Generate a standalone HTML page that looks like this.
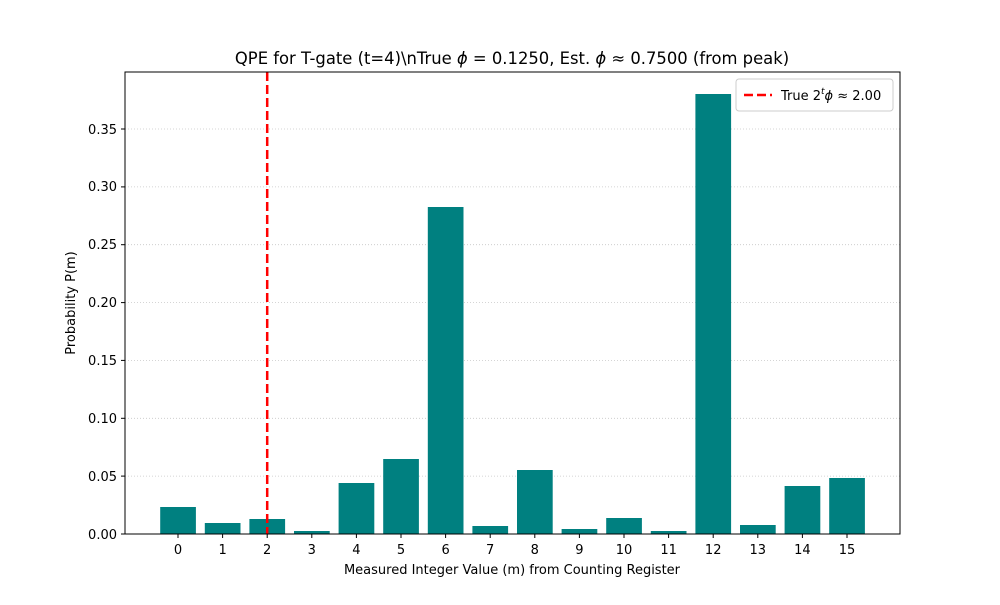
<!DOCTYPE html>
<html><head><meta charset="utf-8"><style>body{margin:0;background:#fff}</style></head><body>
<svg width="1000" height="600" xmlns="http://www.w3.org/2000/svg" font-family="'DejaVu Sans','Liberation Sans',sans-serif">
<rect width="1000" height="600" fill="#fff"/>
<g stroke="#b0b0b0" stroke-width="0.8" stroke-dasharray="1,2" opacity="0.7">
<line x1="125" x2="900" y1="476.1" y2="476.1"/><line x1="125" x2="900" y1="418.3" y2="418.3"/>
<line x1="125" x2="900" y1="360.4" y2="360.4"/><line x1="125" x2="900" y1="302.6" y2="302.6"/>
<line x1="125" x2="900" y1="244.7" y2="244.7"/><line x1="125" x2="900" y1="186.9" y2="186.9"/>
<line x1="125" x2="900" y1="129" y2="129"/>
</g>
<g fill="#008080">
<rect x="160.2" y="507" width="35.7" height="27"/>
<rect x="204.8" y="523" width="35.7" height="11"/>
<rect x="249.4" y="519" width="35.7" height="15"/>
<rect x="294" y="531" width="35.7" height="3"/>
<rect x="338.6" y="483" width="35.7" height="51"/>
<rect x="383.2" y="459" width="35.7" height="75"/>
<rect x="427.8" y="207" width="35.7" height="327"/>
<rect x="472.4" y="526" width="35.7" height="8"/>
<rect x="517" y="470" width="35.7" height="64"/>
<rect x="561.6" y="529" width="35.7" height="5"/>
<rect x="606.2" y="518" width="35.7" height="16"/>
<rect x="650.8" y="531" width="35.7" height="3"/>
<rect x="695.4" y="94" width="35.7" height="440"/>
<rect x="740" y="525" width="35.7" height="9"/>
<rect x="784.6" y="486" width="35.7" height="48"/>
<rect x="829.2" y="478" width="35.7" height="56"/>
</g>
<line x1="267.2" x2="267.2" y1="72" y2="534" stroke="#ff0000" stroke-width="2.5" stroke-dasharray="9,4"/>
<rect x="125" y="72" width="775" height="462" fill="none" stroke="#000" stroke-width="1"/>
<g font-size="13" fill="#000" text-anchor="middle">
<g stroke="#000"><line x1="178" x2="178" y1="534" y2="538"/><line x1="222.6" x2="222.6" y1="534" y2="538"/><line x1="267.2" x2="267.2" y1="534" y2="538"/><line x1="311.8" x2="311.8" y1="534" y2="538"/><line x1="356.4" x2="356.4" y1="534" y2="538"/><line x1="401" x2="401" y1="534" y2="538"/><line x1="445.6" x2="445.6" y1="534" y2="538"/><line x1="490.2" x2="490.2" y1="534" y2="538"/><line x1="534.8" x2="534.8" y1="534" y2="538"/><line x1="579.4" x2="579.4" y1="534" y2="538"/><line x1="624" x2="624" y1="534" y2="538"/><line x1="668.6" x2="668.6" y1="534" y2="538"/><line x1="713.2" x2="713.2" y1="534" y2="538"/><line x1="757.8" x2="757.8" y1="534" y2="538"/><line x1="802.4" x2="802.4" y1="534" y2="538"/><line x1="847" x2="847" y1="534" y2="538"/></g>
<text x="178" y="554">0</text><text x="222.6" y="554">1</text><text x="267.2" y="554">2</text><text x="311.8" y="554">3</text><text x="356.4" y="554">4</text><text x="401" y="554">5</text><text x="445.6" y="554">6</text><text x="490.2" y="554">7</text><text x="534.8" y="554">8</text><text x="579.4" y="554">9</text><text x="624" y="554">10</text><text x="668.6" y="554">11</text><text x="713.2" y="554">12</text><text x="757.8" y="554">13</text><text x="802.4" y="554">14</text><text x="847" y="554">15</text>
<text x="512" y="574">Measured Integer Value (m) from Counting Register</text>
</g>
<g font-size="13" fill="#000" text-anchor="end">
<g stroke="#000"><line x1="121" x2="125" y1="534" y2="534"/><line x1="121" x2="125" y1="476.1" y2="476.1"/><line x1="121" x2="125" y1="418.3" y2="418.3"/><line x1="121" x2="125" y1="360.4" y2="360.4"/><line x1="121" x2="125" y1="302.6" y2="302.6"/><line x1="121" x2="125" y1="244.7" y2="244.7"/><line x1="121" x2="125" y1="186.9" y2="186.9"/><line x1="121" x2="125" y1="129" y2="129"/></g>
<text x="117" y="539">0.00</text><text x="117" y="481">0.05</text><text x="117" y="423">0.10</text><text x="117" y="365">0.15</text><text x="117" y="307">0.20</text><text x="117" y="249">0.25</text><text x="117" y="191">0.30</text><text x="117" y="134">0.35</text>
</g>
<text x="75" y="303" font-size="13" text-anchor="middle" transform="rotate(-90 75 303)">Probability P(m)</text>
<text x="512" y="64" font-size="16.4" text-anchor="middle">QPE for T-gate (t=4)\nTrue <tspan font-style="italic">ϕ</tspan> = 0.1250, Est. <tspan font-style="italic">ϕ</tspan> ≈ 0.7500 (from peak)</text>
<rect x="736" y="79" width="157" height="32" rx="3" fill="#fff" stroke="#ccc"/>
<line x1="744" x2="772" y1="95" y2="95" stroke="#ff0000" stroke-width="2.5" stroke-dasharray="9,4"/>
<text x="781" y="100" font-size="13">True 2<tspan font-size="9" dy="-6" font-style="italic">t</tspan><tspan dy="6" font-style="italic">ϕ</tspan> ≈ 2.00</text>
</svg>
</body></html>
